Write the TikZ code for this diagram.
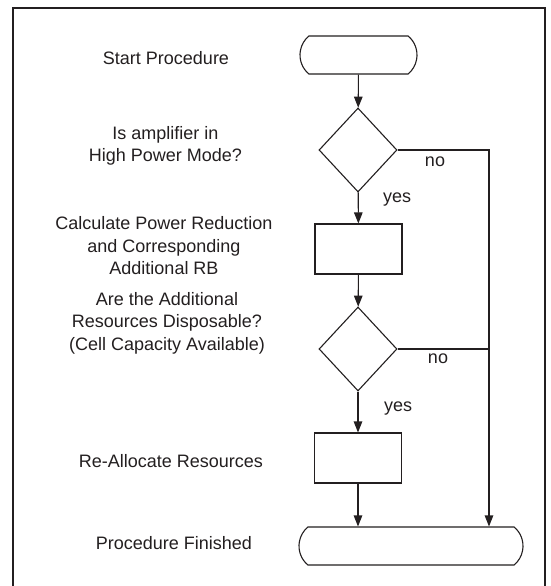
\documentclass[tikz,border=0pt]{standalone}
\usepackage{fontspec}
\setmainfont{Liberation Sans}
\usetikzlibrary{shapes.misc}
\usetikzlibrary{shapes.geometric}
\usetikzlibrary{arrows.meta}
\definecolor{ink}{HTML}{231F20}
\tikzset{
    flowline/.style={draw=ink,line width=1.1pt},
    flowarrow/.style={flowline,-{Triangle[length=11pt,width=8.5pt]}},
    terminal/.style={flowline,rounded rectangle,rounded rectangle arc length=100,
        inner sep=0pt,minimum height=38pt},
    decision/.style={flowline,diamond,inner sep=0pt,minimum width=78pt,minimum height=84pt},
    process/.style={flowline,rectangle,inner sep=0pt,minimum width=87pt,minimum height=50pt},
    caption/.style={align=center,text=ink,font=\fontsize{18}{22.5}\selectfont},
    answer/.style={text=ink,font=\fontsize{18}{22.5}\selectfont}
}

\begin{document}
\begin{tikzpicture}[x=1pt,y=-1pt]
                \useasboundingbox (0,0) rectangle (550,586);
                \fill[white] (0,0) rectangle (550,586);
                \draw[draw=ink,line width=2.4pt] (13,587) -- (13,8) -- (545,8) -- (545,587);
                
                % Flow chart shapes
                \node[terminal,minimum width=117pt] (start) at (358.5,55) {};
                \node[decision] (highpower) at (358,150) {};
                \node[process] (reduction) at (358.5,249) {};
                \node[decision] (disposable) at (358,349) {};
                \node[process] (realloc) at (358,458) {};
                \node[terminal,minimum width=224pt] (finish) at (411,546) {};
                \coordinate (bypass) at (489,150);
                
                % Connectors
                \draw[flowarrow] (start) -- (highpower);
                \draw[flowarrow] (highpower) -- (reduction);
                \draw[flowarrow] (reduction) -- (disposable);
                \draw[flowarrow] (disposable) -- (realloc);
                \draw[flowarrow] (realloc) -- (realloc |- finish.north);
                \draw[flowarrow] (highpower.east) -- (bypass) -- (bypass |- finish.north);
                \draw[flowline] (disposable.east) -- (disposable.east -| bypass);
                
                % Answers
                \node[answer] (no1) at (435,162) {no};
                \node[answer] (yes1) at (397,200) {yes};
                \node[answer] (no2) at (438,359) {no};
                \node[answer] (yes2) at (398,409) {yes};
                
                % Labels
                \node[caption] (lstart) at (166,58) {Start Procedure};
                \node[caption] (lhighpower) at (165.5,146) {Is amplifier in\\High Power Mode?};
                \node[caption] (lreduction) at (164,246) {Calculate Power Reduction\\and Corresponding\\Additional RB};
                \node[caption] (ldisposable) at (167,323) {Are the Additional\\Resources Disposable?\\(Cell Capacity Available)};
                \node[caption] (lrealloc) at (171,461) {Re-Allocate Resources};
                \node[caption] (lfinish) at (174,543) {Procedure Finished};
            \end{tikzpicture}
\end{document}
